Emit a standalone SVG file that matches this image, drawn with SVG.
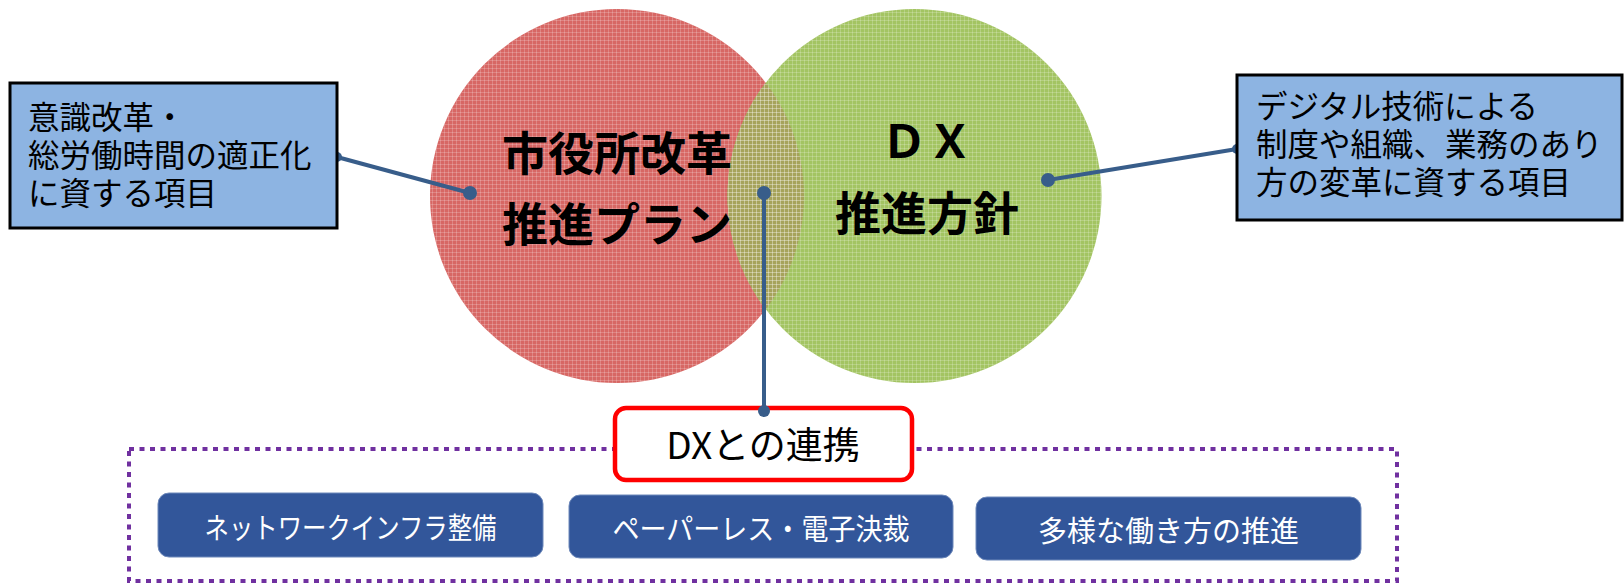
<svg xmlns="http://www.w3.org/2000/svg" width="1624" height="583" viewBox="0 0 1624 583">
<style>
  .jp { font-family: "Noto Sans CJK JP", "Noto Sans", sans-serif; }
  .big { font-size: 46px; font-weight: 700; fill: #000; }
  .box { fill: #8db4e2; stroke: #000; stroke-width: 3; }
  .boxtxt { font-size: 31.5px; fill: #000; }
  .btn { fill: #32569a; stroke: #6d88ba; stroke-width: 1; }
  .btntxt { font-size: 29px; fill: #fff; }
  .conn { stroke: #385d8a; stroke-width: 4; fill: none; }
  .dot { fill: #385d8a; }
</style>
<defs>
  <pattern id="grid" width="4" height="4" patternUnits="userSpaceOnUse">
    <path d="M0 0.5H4M0.5 0V4" stroke="#ffffff" stroke-opacity="0.2" stroke-width="1"/>
  </pattern>
  <clipPath id="redClip">
    <circle cx="617" cy="196" r="187"/>
  </clipPath>
</defs>
<rect width="1624" height="583" fill="#ffffff"/>

<g id="circle-plan">
  <circle cx="617" cy="196" r="187" fill="#d76764"/>
</g>
<g id="circle-dx">
  <circle cx="914.5" cy="196" r="187" fill="#a3c462"/>
  <circle cx="914.5" cy="196" r="187" fill="#a6a35b" clip-path="url(#redClip)"/>
  <circle cx="617" cy="196" r="187" fill="url(#grid)"/>
  <circle cx="914.5" cy="196" r="187" fill="url(#grid)"/>
</g>
<g id="labels-circles" class="jp big" text-anchor="middle" dominant-baseline="central">
  <text x="617" y="150">市役所改革</text>
  <text x="617" y="221">推進プラン</text>
  <text x="927" y="138">ＤＸ</text>
  <text x="927" y="210">推進方針</text>
</g>

<g id="frame">
  <rect x="129" y="449" width="1268" height="132" fill="none" stroke="#7030a0" stroke-width="4" stroke-dasharray="5 5.5"/>
</g>

<g id="dx-link">
  <rect x="615" y="408" width="297" height="72" rx="11" fill="#ffffff" stroke="#ff0000" stroke-width="4.5"/>
  <text class="jp" x="763" y="443" font-size="37" text-anchor="middle" dominant-baseline="central" fill="#000">DXとの連携</text>
</g>

<g id="connectors">
  <line class="conn" x1="337" y1="157" x2="470" y2="193"/>
  <circle class="dot" cx="470" cy="193" r="7"/>
  <circle class="dot" cx="337" cy="157" r="5"/>
  <line class="conn" x1="1048" y1="180" x2="1237" y2="149"/>
  <circle class="dot" cx="1048" cy="180" r="7"/>
  <circle class="dot" cx="1237" cy="149" r="5"/>
  <line class="conn" x1="764" y1="193" x2="764" y2="411"/>
  <circle class="dot" cx="764" cy="193" r="7"/>
  <circle class="dot" cx="764" cy="411" r="6"/>
</g>

<g id="box-left">
  <rect class="box" x="10" y="83" width="327" height="145"/>
  <text class="jp boxtxt" dominant-baseline="central">
    <tspan x="28" y="115">意識改革・</tspan>
    <tspan x="28" y="153">総労働時間の適正化</tspan>
    <tspan x="28" y="191">に資する項目</tspan>
  </text>
</g>

<g id="box-right">
  <rect class="box" x="1237" y="75" width="385" height="145"/>
  <text class="jp boxtxt" dominant-baseline="central">
    <tspan x="1256" y="104">デジタル技術による</tspan>
    <tspan x="1256" y="142">制度や組織、業務のあり</tspan>
    <tspan x="1256" y="180">方の変革に資する項目</tspan>
  </text>
</g>

<g id="btn-network">
  <rect class="btn" x="158" y="493" width="385" height="64" rx="11"/>
  <text class="jp btntxt" x="350.5" y="526" text-anchor="middle" dominant-baseline="central" textLength="292" lengthAdjust="spacingAndGlyphs">ネットワークインフラ整備</text>
</g>
<g id="btn-paperless">
  <rect class="btn" x="569" y="495" width="384" height="63" rx="11"/>
  <text class="jp btntxt" x="761" y="527" text-anchor="middle" dominant-baseline="central" textLength="297" lengthAdjust="spacingAndGlyphs">ペーパーレス・電子決裁</text>
</g>
<g id="btn-workstyle">
  <rect class="btn" x="976" y="497" width="385" height="63" rx="11"/>
  <text class="jp btntxt" x="1168.5" y="529" text-anchor="middle" dominant-baseline="central">多様な働き方の推進</text>
</g>
</svg>
